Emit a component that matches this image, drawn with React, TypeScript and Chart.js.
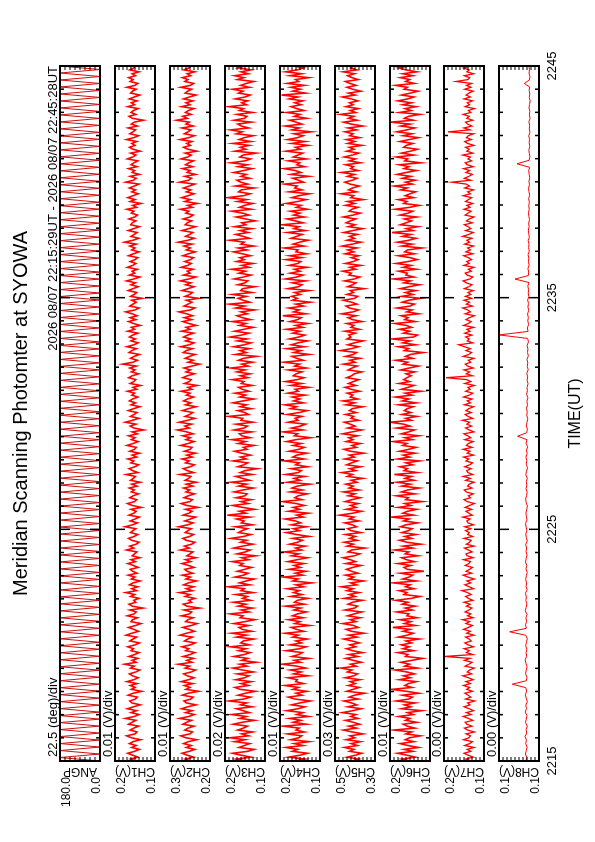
import { useEffect, useRef } from "react";
import { Chart, registerables } from "chart.js";

Chart.register(...registerables);

const FONT = '"Liberation Sans", Arial, Helvetica, sans-serif';

const TITLE = "Meridian Scanning Photomter at SYOWA";
const PERIOD = "2026 08/07 22:15:29UT - 2026 08/07 22:45:28UT";
const TIME_TITLE = "TIME(UT)";
const TIME_TICKS = [0, 10, 20, 30];
const TIME_LABELS = ["2215", "2225", "2235", "2245"];
const TIME_MIN = 0;
const TIME_MAX = 30;

const PANEL_NAMES = ["ANGP", "CH1(V)", "CH2(V)", "CH3(V)", "CH4(V)", "CH5(V)", "CH6(V)", "CH7(V)", "CH8(V)"];
const DIV_LABELS = [
  "22.5 (deg)/div",
  "0.01 (V)/div",
  "0.01 (V)/div",
  "0.02 (V)/div",
  "0.01 (V)/div",
  "0.03 (V)/div",
  "0.01 (V)/div",
  "0.00 (V)/div",
  "0.00 (V)/div",
];
const Y_MAX = [180, 0.2, 0.3, 0.2, 0.2, 0.5, 0.2, 0.2, 0.125];
const Y_MIN = [0, 0.1, 0.2, 0.1, 0.1, 0.3, 0.1, 0.1, 0.095];
const Y_MAX_LABELS = ["180.0", "0.2", "0.3", "0.2", "0.2", "0.5", "0.2", "0.2", "0.1"];
const Y_MIN_LABELS = ["0.0", "0.1", "0.2", "0.1", "0.1", "0.3", "0.1", "0.1", "0.1"];
const Y_DIVS = [8, 10, 10, 10, 10, 10, 10, 10, 10];

// scanning angle (deg)
const ANGP = [
  0, 180, 0, 180, 0, 180, 0, 180, 0, 180, 0, 180, 0, 180, 0, 180, 0, 180, 0, 180,
  0, 180, 0, 180, 0, 180, 0, 180, 0, 180, 0, 180, 0, 180, 0, 180, 0, 180, 0, 180,
  0, 180, 0, 180, 0, 180, 0, 180, 0, 180, 0, 180, 0, 180, 0, 180, 0, 180, 0, 180,
  0, 180, 0, 180, 0, 180, 0, 180, 0, 180, 0, 180, 0, 180, 0, 180, 0, 180, 0, 180,
  0, 180, 0, 180, 0, 180, 0, 180, 0, 180, 0, 180, 0, 180, 0, 180, 0, 180, 0, 180,
  0, 180, 0, 180, 0, 180, 0, 180, 0, 180, 0, 180, 0, 180, 0, 180, 0, 180, 0, 180,
  0, 180, 0, 180, 0, 180, 0, 180, 0, 180, 0, 180, 0, 180, 0, 180, 0, 180, 0, 180,
  0, 180, 0, 180, 0, 180, 0, 180, 0, 180, 0, 180, 0, 180, 0, 180, 0, 180, 0, 180,
  0, 180, 0, 180, 0, 180, 0, 180, 0, 180, 0, 180, 0, 180, 0, 180, 0, 180, 0, 180,
  0, 180, 0, 180, 0, 180, 0, 180, 0, 180, 0, 180, 0, 180, 0, 180, 0, 180, 0, 180,
];

const CH1 = [
  .149,.161,.143,.156,.168,.151,.139,.158,.147,.164,.155,.136,.159,.171,.150,.145,.162,.153,.141,.166,
  .157,.148,.174,.152,.140,.160,.146,.169,.154,.137,.158,.163,.149,.144,.167,.155,.133,.159,.150,.162,
  .145,.170,.153,.142,.156,.164,.148,.138,.161,.152,.176,.147,.157,.143,.165,.151,.140,.160,.154,.168,
  .150,.139,.163,.155,.146,.172,.158,.141,.153,.166,.149,.135,.160,.156,.144,.169,.152,.147,.163,.130,
  .157,.165,.148,.153,.140,.161,.151,.173,.146,.158,.143,.164,.155,.137,.159,.150,.167,.145,.156,.162,
  .142,.154,.168,.149,.160,.138,.157,.151,.145,.171,.153,.163,.147,.140,.158,.166,.152,.143,.161,.155,
  .148,.175,.156,.144,.162,.150,.139,.165,.153,.147,.160,.134,.157,.169,.151,.146,.163,.155,.141,.159,
  .152,.164,.145,.158,.137,.161,.154,.149,.172,.143,.156,.165,.150,.141,.160,.153,.168,.146,.157,.139,
  .163,.151,.147,.170,.155,.142,.159,.150,.166,.144,.157,.128,.153,.162,.148,.174,.156,.140,.161,.152,
  .145,.167,.154,.138,.160,.149,.164,.156,.143,.158,.151,.169,.146,.155,.136,.162,.153,.148,.166,.157,
  .141,.159,.150,.163,.147,.181,.155,.144,.161,.152,.139,.165,.158,.146,.170,.153,.142,.160,.149,.164,
  .156,.143,.168,.151,.159,.137,.154,.166,.148,.162,.145,.157,.173,.150,.140,.163,.155,.147,.158,.132,
  .161,.152,.146,.167,.155,.142,.160,.149,.171,.153,.138,.164,.151,.157,.144,.169,.156,.148,.162,.150,
  .143,.166,.154,.140,.158,.150,.163,.147,.176,.155,.141,.160,.152,.145,.167,.153,.139,.161,.157,.148,
  .165,.151,.144,.159,.153,.170,.146,.156,.135,.162,.150,.168,.155,.142,.158,.149,.164,.152,.140,.173,
  .154,.147,.162,.139,.157,.151,.166,.145,.160,.153,.143,.169,.156,.148,.161,.137,.155,.164,.150,.158,
  .146,.171,.153,.141,.163,.155,.149,.167,.144,.159,.152,.129,.157,.165,.148,.160,.154,.142,.168,.151,
  .159,.145,.164,.152,.138,.161,.156,.147,.170,.150,.143,.162,.155,.166,.149,.157,.140,.163,.153,.148,
];

const CH2 = [
  .249,.262,.241,.257,.270,.252,.238,.259,.247,.266,.254,.233,.260,.273,.250,.244,.263,.255,.240,.268,
  .258,.246,.276,.253,.239,.261,.245,.271,.256,.235,.259,.265,.248,.242,.269,.255,.229,.260,.250,.264,
  .243,.272,.254,.240,.257,.266,.247,.236,.262,.251,.279,.245,.258,.241,.267,.250,.238,.261,.253,.270,
  .249,.237,.264,.256,.244,.275,.259,.239,.252,.268,.247,.232,.261,.255,.242,.271,.251,.246,.265,.226,
  .258,.267,.246,.253,.238,.262,.250,.276,.244,.259,.241,.266,.254,.234,.260,.249,.269,.243,.257,.263,
  .240,.254,.270,.248,.261,.235,.258,.250,.243,.274,.252,.264,.246,.238,.259,.268,.251,.241,.262,.255,
  .247,.278,.256,.242,.263,.249,.236,.267,.253,.245,.261,.230,.258,.272,.250,.244,.265,.254,.239,.260,
  .251,.266,.243,.259,.234,.262,.253,.248,.275,.241,.257,.267,.249,.239,.261,.252,.270,.244,.258,.236,
  .264,.250,.245,.273,.255,.240,.260,.249,.268,.242,.258,.281,.252,.263,.246,.277,.256,.238,.262,.251,
  .243,.269,.254,.235,.261,.248,.266,.256,.241,.259,.250,.272,.245,.255,.232,.264,.252,.247,.268,.257,
  .239,.260,.249,.265,.245,.226,.255,.242,.262,.251,.237,.267,.259,.244,.273,.252,.240,.261,.248,.266,
  .256,.241,.271,.250,.260,.234,.253,.268,.246,.264,.243,.258,.277,.249,.238,.265,.255,.245,.259,.229,
  .262,.251,.244,.270,.255,.240,.261,.248,.274,.253,.235,.266,.250,.257,.242,.272,.256,.247,.263,.249,
  .241,.268,.254,.237,.259,.249,.265,.245,.279,.255,.239,.261,.251,.243,.270,.253,.236,.262,.257,.246,
  .267,.250,.242,.260,.253,.274,.244,.256,.231,.263,.249,.271,.255,.240,.259,.248,.266,.252,.238,.276,
  .254,.246,.263,.236,.257,.250,.269,.243,.261,.253,.241,.272,.256,.247,.262,.233,.255,.266,.249,.258,
  .245,.275,.253,.239,.264,.255,.248,.270,.242,.260,.252,.283,.257,.268,.247,.261,.254,.240,.271,.250,
  .260,.243,.266,.251,.235,.262,.256,.246,.273,.249,.241,.263,.255,.269,.248,.257,.238,.265,.253,.247,
];

const CH3 = [
  .148,.172,.135,.160,.181,.143,.127,.165,.152,.138,.176,.150,.188,.141,.158,.131,.168,.154,.144,.179,
  .157,.126,.163,.147,.184,.139,.155,.171,.132,.161,.146,.190,.153,.136,.167,.149,.124,.162,.175,.142,
  .160,.134,.173,.151,.140,.169,.129,.156,.180,.145,.163,.122,.158,.143,.177,.152,.137,.166,.148,.186,
  .139,.161,.154,.128,.171,.146,.183,.133,.157,.165,.141,.178,.150,.125,.162,.155,.187,.140,.159,.131,
  .167,.148,.179,.136,.156,.144,.173,.130,.160,.152,.192,.138,.164,.147,.127,.175,.154,.142,.169,.151,
  .133,.163,.155,.182,.141,.158,.123,.170,.149,.137,.178,.156,.130,.161,.146,.185,.153,.135,.166,.157,
  .144,.174,.131,.159,.152,.171,.138,.194,.148,.164,.126,.156,.181,.142,.160,.134,.172,.150,.145,.177,
  .155,.129,.166,.146,.184,.139,.157,.173,.132,.162,.150,.120,.168,.153,.143,.180,.147,.161,.136,.158,
  .176,.145,.154,.127,.167,.149,.183,.137,.158,.164,.133,.177,.152,.144,.172,.130,.160,.156,.191,.141,
  .151,.168,.134,.162,.146,.180,.155,.128,.163,.148,.175,.140,.157,.166,.132,.159,.153,.182,.143,.161,
  .137,.170,.150,.185,.142,.158,.131,.166,.154,.121,.174,.147,.162,.139,.178,.152,.135,.169,.145,.187,
  .159,.140,.176,.153,.129,.164,.148,.182,.136,.157,.170,.144,.160,.126,.173,.151,.189,.138,.155,.167,
  .147,.181,.133,.161,.156,.125,.168,.150,.143,.177,.154,.135,.165,.149,.184,.140,.158,.130,.171,.152,
  .163,.136,.157,.179,.145,.167,.128,.160,.152,.188,.139,.155,.173,.142,.162,.133,.176,.148,.158,.124,
  .149,.172,.140,.156,.183,.134,.164,.151,.130,.169,.146,.193,.154,.137,.166,.159,.127,.174,.143,.161,
  .170,.138,.160,.147,.178,.153,.132,.167,.144,.185,.150,.136,.163,.155,.122,.175,.148,.162,.139,.180,
  .135,.165,.152,.129,.172,.157,.186,.141,.159,.168,.134,.177,.151,.145,.170,.131,.164,.154,.190,.146,
  .158,.143,.174,.150,.137,.166,.155,.181,.139,.161,.147,.128,.169,.153,.176,.142,.160,.135,.167,.152,
];

const CH4 = [
  .162,.137,.178,.150,.131,.169,.156,.185,.142,.164,.127,.173,.153,.146,.181,.139,.160,.152,.192,.134,
  .167,.148,.176,.129,.158,.143,.183,.155,.138,.171,.150,.124,.163,.179,.145,.160,.133,.168,.154,.188,
  .141,.161,.157,.180,.130,.166,.147,.174,.136,.158,.195,.149,.164,.128,.170,.153,.144,.184,.151,.135,
  .175,.146,.160,.132,.168,.154,.187,.140,.159,.172,.126,.163,.150,.179,.142,.169,.156,.134,.165,.148,
  .186,.139,.164,.157,.130,.173,.145,.166,.152,.182,.141,.160,.121,.168,.155,.191,.143,.162,.135,.177,
  .149,.165,.140,.180,.157,.131,.171,.153,.189,.146,.161,.137,.176,.156,.144,.168,.127,.159,.184,.151,
  .166,.134,.172,.148,.162,.187,.142,.158,.129,.178,.151,.167,.139,.160,.194,.145,.163,.155,.132,.174,
  .144,.170,.157,.125,.181,.150,.165,.138,.185,.154,.147,.172,.131,.161,.152,.189,.140,.168,.158,.133,
  .177,.153,.139,.167,.147,.183,.160,.123,.164,.156,.192,.143,.171,.149,.136,.179,.155,.162,.145,.182,
  .152,.132,.174,.159,.188,.141,.166,.150,.169,.137,.180,.154,.162,.128,.173,.146,.186,.157,.140,.167,
  .160,.145,.179,.134,.163,.151,.190,.142,.158,.170,.127,.165,.148,.183,.139,.172,.155,.131,.176,.153,
  .138,.168,.150,.184,.143,.161,.130,.175,.156,.147,.193,.135,.166,.152,.178,.141,.160,.124,.169,.157,
  .171,.149,.163,.127,.180,.154,.145,.169,.136,.186,.158,.142,.174,.150,.164,.132,.177,.155,.148,.185,
  .146,.176,.133,.160,.155,.189,.140,.167,.151,.129,.172,.158,.144,.181,.137,.165,.153,.194,.142,.162,
  .182,.139,.166,.150,.174,.131,.159,.147,.184,.156,.135,.170,.153,.126,.177,.145,.163,.157,.188,.141,
  .154,.168,.128,.173,.148,.162,.190,.138,.158,.151,.179,.134,.167,.155,.143,.185,.149,.161,.130,.171,
  .137,.181,.156,.142,.165,.122,.170,.152,.187,.145,.160,.176,.133,.164,.150,.183,.140,.158,.172,.147,
  .163,.143,.177,.155,.196,.136,.168,.149,.173,.139,.182,.153,.161,.128,.175,.146,.186,.157,.141,.166,
];

const CH5 = [
  .412,.381,.439,.398,.366,.427,.405,.452,.389,.419,.372,.444,.401,.425,.360,.414,.458,.393,.431,.377,
  .408,.447,.385,.421,.396,.463,.411,.369,.436,.391,.417,.455,.383,.429,.403,.352,.441,.410,.379,.433,
  .399,.424,.375,.449,.406,.387,.438,.416,.470,.394,.422,.368,.409,.446,.386,.430,.362,.413,.442,.397,
  .426,.378,.415,.456,.390,.432,.355,.418,.444,.384,.407,.461,.395,.423,.373,.437,.404,.366,.450,.402,
  .388,.434,.412,.363,.453,.400,.428,.380,.440,.410,.468,.392,.421,.357,.431,.406,.448,.385,.418,.443,
  .411,.370,.445,.397,.424,.459,.403,.376,.435,.416,.351,.439,.408,.454,.389,.427,.398,.447,.371,.420,
  .437,.392,.414,.451,.380,.429,.405,.476,.412,.367,.443,.395,.422,.384,.449,.415,.374,.433,.401,.457,
  .379,.430,.409,.445,.391,.419,.361,.438,.413,.465,.396,.426,.372,.442,.418,.388,.451,.404,.428,.356,
  .423,.455,.393,.416,.373,.444,.410,.431,.387,.462,.414,.366,.436,.399,.425,.453,.382,.420,.407,.447,
  .394,.428,.413,.362,.446,.402,.460,.386,.424,.411,.439,.377,.419,.450,.396,.432,.408,.381,.441,.417,
  .404,.366,.434,.415,.389,.457,.400,.425,.375,.447,.409,.392,.472,.418,.383,.436,.403,.359,.440,.421,
  .431,.398,.451,.378,.420,.406,.441,.364,.413,.435,.394,.466,.410,.382,.428,.445,.390,.417,.458,.401,
  .387,.440,.408,.423,.356,.437,.412,.395,.452,.404,.376,.430,.419,.461,.397,.426,.371,.448,.409,.385,
  .418,.382,.449,.406,.436,.391,.464,.414,.370,.439,.403,.427,.388,.455,.411,.362,.433,.400,.444,.423,
  .396,.458,.410,.374,.429,.416,.385,.448,.402,.437,.358,.421,.407,.469,.393,.432,.412,.379,.425,.451,
  .414,.390,.437,.403,.467,.384,.422,.408,.446,.373,.428,.398,.454,.413,.381,.441,.405,.429,.365,.436,
  .401,.442,.377,.426,.410,.450,.393,.435,.360,.419,.456,.389,.432,.406,.473,.397,.424,.384,.445,.409,
  .427,.386,.418,.463,.399,.433,.371,.412,.440,.395,.425,.448,.383,.416,.437,.402,.459,.390,.422,.408,
];

const CH6 = [
  .149,.170,.136,.158,.181,.143,.165,.129,.155,.175,.140,.162,.151,.124,.160,.146,.190,.138,.157,.167,
  .133,.161,.150,.178,.142,.156,.121,.171,.148,.164,.137,.184,.153,.144,.169,.128,.159,.196,.145,.163,
  .154,.134,.176,.149,.166,.139,.158,.187,.131,.163,.151,.173,.145,.118,.161,.155,.180,.141,.168,.152,
  .172,.146,.160,.127,.179,.157,.142,.167,.150,.193,.136,.164,.148,.175,.132,.158,.153,.183,.144,.162,
  .137,.169,.155,.185,.147,.125,.165,.158,.177,.140,.161,.150,.191,.134,.168,.152,.143,.174,.115,.157,
  .165,.148,.180,.139,.159,.171,.130,.162,.153,.188,.143,.167,.123,.158,.176,.146,.163,.135,.170,.154,
  .145,.174,.160,.131,.166,.152,.197,.141,.168,.156,.133,.179,.148,.163,.119,.161,.154,.184,.138,.171,
  .156,.127,.170,.149,.182,.140,.162,.146,.189,.132,.165,.157,.175,.143,.160,.126,.181,.151,.167,.137,
  .176,.153,.135,.168,.158,.192,.144,.163,.128,.172,.154,.139,.183,.150,.166,.200,.147,.161,.133,.170,
  .148,.164,.157,.142,.178,.134,.169,.153,.186,.145,.162,.122,.171,.155,.140,.177,.151,.166,.158,.147,
  .160,.138,.173,.152,.129,.167,.156,.185,.143,.161,.149,.117,.164,.154,.179,.136,.168,.150,.194,.141,
  .131,.166,.151,.176,.146,.159,.188,.137,.163,.155,.172,.128,.158,.145,.182,.150,.139,.169,.153,.124,
  .171,.143,.161,.136,.174,.152,.126,.165,.149,.191,.140,.160,.157,.178,.134,.167,.147,.185,.155,.132,
  .150,.179,.139,.163,.156,.120,.170,.145,.181,.153,.135,.168,.148,.195,.142,.159,.130,.174,.160,.146,
  .164,.133,.175,.155,.143,.187,.151,.127,.166,.158,.179,.141,.162,.150,.136,.173,.157,.189,.144,.161,
  .137,.169,.148,.182,.160,.134,.165,.153,.177,.123,.163,.156,.184,.140,.171,.149,.131,.166,.159,.143,
  .175,.152,.129,.167,.145,.183,.158,.138,.173,.150,.198,.142,.164,.154,.125,.176,.147,.162,.135,.168,
  .146,.180,.156,.140,.171,.149,.130,.165,.157,.186,.139,.161,.151,.174,.143,.168,.133,.160,.178,.153,
];

const CH7 = [
  .131,.146,.127,.140,.150,.133,.142,.125,.148,.136,.129,.151,.138,.134,.145,.124,.141,.149,.130,.143,
  .147,.128,.139,.152,.132,.144,.126,.137,.150,.135,.141,.123,.146,.133,.140,.148,.129,.143,.136,.151,
  .134,.145,.127,.139,.153,.131,.142,.136,.124,.147,.138,.130,.149,.135,.199,.128,.144,.137,.150,.126,
  .140,.148,.132,.137,.146,.125,.143,.134,.151,.139,.129,.145,.136,.154,.127,.141,.133,.147,.138,.130,
  .144,.135,.150,.128,.139,.146,.132,.141,.155,.126,.137,.148,.133,.143,.124,.140,.152,.131,.145,.136,
  .129,.147,.138,.134,.151,.127,.142,.145,.130,.139,.149,.125,.144,.136,.132,.150,.128,.141,.137,.146,
  .133,.148,.126,.140,.143,.135,.153,.129,.138,.145,.131,.147,.136,.124,.142,.150,.134,.139,.127,.144,
  .149,.130,.141,.137,.125,.146,.134,.152,.128,.140,.143,.132,.148,.136,.129,.145,.138,.151,.126,.142,
  .135,.152,.130,.144,.139,.127,.148,.133,.141,.150,.125,.137,.146,.131,.143,.136,.154,.128,.140,.147,
  .132,.145,.138,.126,.149,.134,.142,.130,.151,.137,.128,.146,.135,.140,.124,.148,.133,.143,.195,.129,
  .144,.136,.150,.127,.141,.147,.133,.139,.125,.152,.138,.131,.145,.134,.149,.163,.128,.142,.137,.146,
  .130,.148,.135,.143,.126,.151,.139,.132,.145,.137,.124,.147,.134,.141,.153,.129,.144,.136,.150,.131,
  .146,.133,.140,.127,.149,.138,.130,.144,.152,.135,.128,.142,.147,.132,.139,.125,.150,.137,.143,.131,
  .139,.151,.128,.145,.134,.141,.126,.148,.136,.143,.130,.153,.138,.127,.146,.133,.140,.149,.129,.144,
  .137,.125,.147,.140,.132,.150,.135,.143,.128,.146,.139,.131,.152,.134,.141,.126,.148,.136,.144,.180,
  .133,.149,.138,.129,.145,.136,.151,.127,.142,.147,.131,.140,.134,.153,.128,.143,.137,.146,.125,.141,
  .148,.132,.144,.139,.126,.190,.135,.150,.130,.141,.146,.128,.143,.137,.152,.133,.139,.124,.147,.136,
  .142,.129,.150,.134,.145,.138,.127,.148,.133,.144,.131,.170,.140,.136,.149,.126,.143,.137,.151,.132,
];

const CH8 = [
  0.1048, 0.1041, 0.1052, 0.1045, 0.1039, 0.1050, 0.1044, 0.1055, 0.1042, 0.1047, 0.1038, 0.1051, 0.1046, 0.1040, 0.1053, 0.1044, 0.1049, 0.1037, 0.1046, 0.1052,
  0.1043, 0.1049, 0.1150, 0.1045, 0.1040, 0.1051, 0.1046, 0.1039, 0.1048, 0.1054, 0.1042, 0.1047, 0.1041, 0.1050, 0.1044, 0.1038, 0.1049, 0.1170, 0.1045, 0.1051,
  0.1043, 0.1048, 0.1040, 0.1053, 0.1046, 0.1041, 0.1049, 0.1044, 0.1052, 0.1039, 0.1047, 0.1043, 0.1050, 0.1045, 0.1038, 0.1048, 0.1042, 0.1051, 0.1046, 0.1040,
  0.1047, 0.1043, 0.1050, 0.1038, 0.1045, 0.1049, 0.1041, 0.1046, 0.1052, 0.1040, 0.1044, 0.1048, 0.1042, 0.1037, 0.1046, 0.1050, 0.1043, 0.1039, 0.1047, 0.1041,
  0.1045, 0.1038, 0.1049, 0.1043, 0.1036, 0.1046, 0.1041, 0.1048, 0.1039, 0.1044, 0.1035, 0.1047, 0.1040, 0.1110, 0.1043, 0.1037, 0.1045, 0.1040, 0.1034, 0.1042,
  0.1038, 0.1044, 0.1036, 0.1041, 0.1033, 0.1043, 0.1037, 0.1040, 0.1032, 0.1039, 0.1035, 0.1042, 0.1031, 0.1038, 0.1034, 0.1040, 0.1030, 0.1036, 0.1033, 0.1039,
  0.1029, 0.1035, 0.1250, 0.1032, 0.1037, 0.1028, 0.1034, 0.1030, 0.1036, 0.1027, 0.1033, 0.1029, 0.1035, 0.1026, 0.1031, 0.1028, 0.1034, 0.1025, 0.1130, 0.1030,
  0.1027, 0.1033, 0.1024, 0.1029, 0.1026, 0.1032, 0.1023, 0.1028, 0.1025, 0.1031, 0.1022, 0.1027, 0.1030, 0.1024, 0.1028, 0.1021, 0.1026, 0.1029, 0.1023, 0.1027,
  0.1022, 0.1028, 0.1020, 0.1025, 0.1029, 0.1021, 0.1026, 0.1019, 0.1024, 0.1027, 0.1020, 0.1115, 0.1025, 0.1018, 0.1023, 0.1026, 0.1019, 0.1024, 0.1021, 0.1027,
  0.1018, 0.1023, 0.1020, 0.1026, 0.1017, 0.1022, 0.1019, 0.1025, 0.1021, 0.1016, 0.1023, 0.1019, 0.1024, 0.1020, 0.1060, 0.1022, 0.1018, 0.1025, 0.1021, 0.1026,
];

const SERIES = [ANGP, CH1, CH2, CH3, CH4, CH5, CH6, CH7, CH8];
const LINE_COLORS = ["#cc1010", "#ff0000", "#ff0000", "#ff0000", "#ff0000", "#ff0000", "#ff0000", "#ff0000", "#ff0000"];
const LINE_WIDTHS = [1, 1.6, 1.6, 1.6, 1.6, 1.6, 1.6, 1.3, 1];

// layout (landscape sheet, later rotated onto the portrait page)
const SHEET_W = 842;
const SHEET_H = 595;
const PLOT_LEFT = 81;
const PLOT_RIGHT = 776;
const PANEL_TOPS = [60, 115, 170, 225, 280, 335, 390, 444, 499];
const PANEL_H = 40;

function makeDeco(i: number) {
  const last = i === SERIES.length - 1;
  return {
    id: "panelDeco",
    afterDatasetsDraw(chart: any) {
      const { ctx, chartArea: a } = chart;
      const xs = chart.scales.x;
      const ys = chart.scales.y;
      ctx.save();
      ctx.strokeStyle = "#000";
      // time ticks (inside, both edges)
      ctx.lineWidth = 1.5;
      ctx.beginPath();
      for (let m = TIME_MIN + 1; m < TIME_MAX; m++) {
        const px = xs.getPixelForValue(m);
        const len = m % 10 === 0 ? 10 : 4;
        ctx.moveTo(px, a.top);
        ctx.lineTo(px, a.top + len);
        ctx.moveTo(px, a.bottom);
        ctx.lineTo(px, a.bottom - len);
      }
      ctx.stroke();
      // value ticks
      ctx.lineWidth = 1;
      ctx.beginPath();
      const nd = Y_DIVS[i];
      for (let k = 1; k < nd; k++) {
        const py = ys.getPixelForValue(Y_MIN[i] + (k * (Y_MAX[i] - Y_MIN[i])) / nd);
        ctx.moveTo(a.left, py);
        ctx.lineTo(a.left + 4, py);
        ctx.moveTo(a.right, py);
        ctx.lineTo(a.right - 4, py);
      }
      ctx.stroke();
      // frame
      ctx.lineWidth = 2;
      ctx.strokeRect(a.left, a.top, a.right - a.left, a.bottom - a.top);

      ctx.fillStyle = "#000";
      // value labels
      ctx.font = `12px ${FONT}`;
      ctx.textAlign = "right";
      ctx.textBaseline = "alphabetic";
      ctx.fillText(Y_MAX_LABELS[i], a.left - 16, ys.getPixelForValue(Y_MAX[i]) + 9.5);
      ctx.fillText(Y_MIN_LABELS[i], a.left - 16, ys.getPixelForValue(Y_MIN[i]));
      // axis name
      ctx.save();
      ctx.translate(a.left - 10, (a.top + a.bottom) / 2);
      ctx.rotate(-Math.PI / 2);
      ctx.textAlign = "center";
      ctx.textBaseline = "middle";
      ctx.fillText(PANEL_NAMES[i], 0, 0);
      ctx.restore();
      // scale per division
      ctx.font = `13px ${FONT}`;
      ctx.textAlign = "left";
      ctx.fillText(DIV_LABELS[i], a.left + 4, a.top - 3);

      if (i === 0) {
        ctx.textAlign = "right";
        ctx.fillText(PERIOD, a.right, a.top - 3);
        ctx.font = `20px ${FONT}`;
        ctx.textAlign = "center";
        ctx.fillText(TITLE, (a.left + a.right) / 2, 27);
      }
      if (last) {
        ctx.font = `13px ${FONT}`;
        ctx.textAlign = "center";
        TIME_TICKS.forEach((t, k) => {
          ctx.fillText(TIME_LABELS[k], xs.getPixelForValue(t), a.bottom + 17);
        });
        ctx.font = `16px ${FONT}`;
        ctx.fillText(TIME_TITLE, (a.left + a.right) / 2, a.bottom + 41);
      }
      ctx.restore();
    },
  };
}

export default function App() {
  const refs = useRef<(HTMLCanvasElement | null)[]>([]);

  useEffect(() => {
    const charts = SERIES.map((values, i) => {
      const n = values.length;
      const points = values.map((v, k) => ({ x: TIME_MIN + (k * (TIME_MAX - TIME_MIN)) / (n - 1), y: v }));
      return new Chart(refs.current[i] as HTMLCanvasElement, {
        type: "line",
        data: {
          datasets: [
            {
              data: points,
              borderColor: LINE_COLORS[i],
              borderWidth: LINE_WIDTHS[i],
              borderJoinStyle: "miter",
              pointRadius: 0,
              tension: 0,
              fill: false,
            },
          ],
        },
        options: {
          responsive: false,
          animation: false,
          events: [],
          layout: {
            padding: {
              left: PLOT_LEFT,
              right: SHEET_W - PLOT_RIGHT,
              top: PANEL_TOPS[i],
              bottom: SHEET_H - PANEL_TOPS[i] - PANEL_H,
            },
          },
          scales: {
            x: { type: "linear", min: TIME_MIN, max: TIME_MAX, display: false },
            y: { type: "linear", min: Y_MIN[i], max: Y_MAX[i], display: false },
          },
          plugins: {
            legend: { display: false },
            tooltip: { enabled: false },
          },
        },
        plugins: [makeDeco(i)],
      } as any);
    });
    return () => charts.forEach((c) => c.destroy());
  }, []);

  return (
    <div style={{ position: "absolute", left: 0, top: 0, width: 595, height: 842, overflow: "hidden", background: "#fff" }}>
      <div
        style={{
          position: "absolute",
          left: 0,
          top: 0,
          width: SHEET_W,
          height: SHEET_H,
          transformOrigin: "0 0",
          transform: `translate(0px, ${SHEET_W}px) rotate(-90deg)`,
        }}
      >
        {SERIES.map((_, i) => (
          <canvas
            key={i}
            ref={(el) => {
              refs.current[i] = el;
            }}
            width={SHEET_W}
            height={SHEET_H}
            style={{ position: "absolute", left: 0, top: 0 }}
          />
        ))}
      </div>
    </div>
  );
}
